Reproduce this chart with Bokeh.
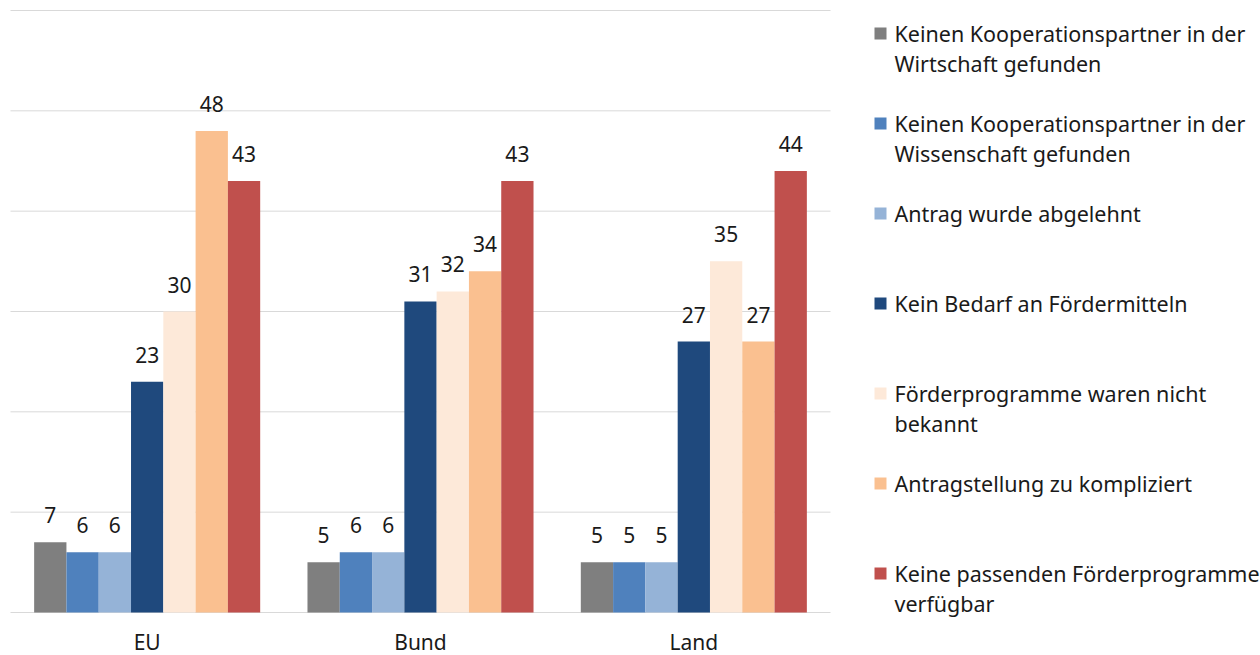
import numpy as np
from bokeh.plotting import figure
from bokeh.models import Range1d, ColumnDataSource
from bokeh.core.properties import value
from bokeh.embed import file_html
from bokeh.resources import INLINE

categories = ["EU", "Bund", "Land"]
series_names = [
    "Keinen Kooperationspartner in der\nWirtschaft gefunden",
    "Keinen Kooperationspartner in der\nWissenschaft gefunden",
    "Antrag wurde abgelehnt",
    "Kein Bedarf an Fördermitteln",
    "Förderprogramme waren nicht\nbekannt",
    "Antragstellung zu kompliziert",
    "Keine passenden Förderprogramme\nverfügbar",
]
s_wirtschaft = [7, 5, 5]
s_wissenschaft = [6, 6, 5]
s_abgelehnt = [6, 6, 5]
s_kein_bedarf = [23, 31, 27]
s_nicht_bekannt = [30, 32, 35]
s_kompliziert = [48, 34, 27]
s_keine_passenden = [43, 43, 44]
series_values = [s_wirtschaft, s_wissenschaft, s_abgelehnt, s_kein_bedarf,
                 s_nicht_bekannt, s_kompliziert, s_keine_passenden]
colors = ["#7f7f7f", "#4f81bd", "#95b3d7", "#1f497d", "#fde9d9", "#fac090", "#c0504d"]
y_ticks = [0, 10, 20, 30, 40, 50, 60]

FONT = "Noto Sans"
TXT = "#1a1a1a"

# canvas layout (pixels)
W, H = 1260, 655
PLOT_L, PLOT_R = 10, 830      # plot area left/right
PLOT_T, PLOT_B = 10, 612      # y = 60 / y = 0
YMAX = 60
band = (PLOT_R - PLOT_L) / len(categories)
ppu = (PLOT_B - PLOT_T) / YMAX

p = figure(width=W, height=H, output_backend="svg", toolbar_location=None,
           x_range=Range1d(-PLOT_L / band, (W - PLOT_L) / band),
           y_range=Range1d(-(H - PLOT_B) / ppu, YMAX + PLOT_T / ppu),
           min_border=0, min_border_left=0, min_border_right=0,
           min_border_top=0, min_border_bottom=0)
p.axis.visible = False
p.grid.visible = False
p.outline_line_color = None
p.extra_x_ranges = {"px": Range1d(0, W)}
p.extra_y_ranges = {"px": Range1d(H, 0)}

ncat = len(categories)
centers = np.arange(ncat) + 0.5

# gridlines across plot area only
p.segment(x0=[0] * len(y_ticks), x1=[ncat] * len(y_ticks), y0=y_ticks, y1=y_ticks,
          line_color="#d9d9d9", line_width=1)

bw = 0.827 / 7
for j, (vals, col) in enumerate(zip(series_values, colors)):
    xs = centers + (j - 3) * bw
    src = ColumnDataSource(dict(x=xs, v=vals, t=[str(v) for v in vals]))
    p.vbar(x="x", top="v", width=bw, source=src, fill_color=col, line_color=None)
    p.text(x="x", y="v", text="t", source=src,
           text_align="center", text_baseline="alphabetic", y_offset=-27,
           text_font=value(FONT), text_font_size="21px", text_color=TXT)

# category labels
p.text(x=centers, y=[0] * ncat, text=categories, text_align="center",
       text_baseline="middle", y_offset=29,
       text_font=value(FONT), text_font_size="21px", text_color=TXT)

# legend (pixel coordinates)
sq_x, txt_x, y0, step, line_h = 880, 894, 33, 90, 30
for i, (name, col) in enumerate(zip(series_names, colors)):
    yc = y0 + step * i
    p.scatter(x=[sq_x], y=[yc], marker="square", size=12, fill_color=col, line_color=None,
              x_range_name="px", y_range_name="px")
    lines = name.split("\n")
    p.text(x=[txt_x] * len(lines), y=[yc + line_h * k for k in range(len(lines))], text=lines,
           text_align="left", text_baseline="middle",
           text_font=value(FONT), text_font_size="21.5px", text_color=TXT,
           x_range_name="px", y_range_name="px")

open("out.html", "w").write(file_html(p, INLINE))
